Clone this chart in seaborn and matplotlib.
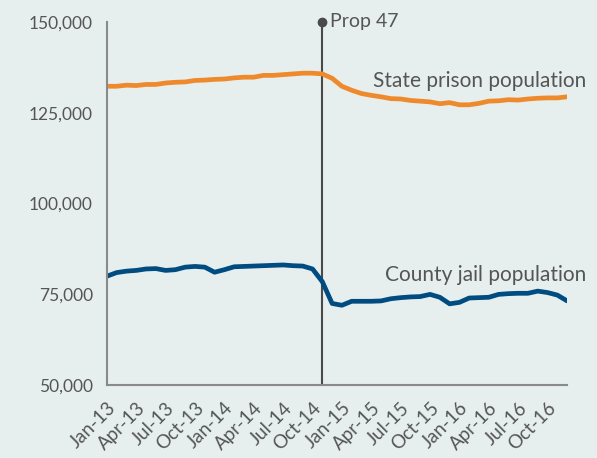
import numpy as np
import pandas as pd
import seaborn as sns
import matplotlib.pyplot as plt

months = pd.date_range('2013-01-01', '2016-12-01', freq='MS').strftime('%b-%y').tolist()

county_jail = [80.0, 81.0, 81.4, 81.6, 82.0, 82.1, 81.6, 81.8, 82.5, 82.7, 82.5, 81.1,
               81.8, 82.6, 82.7, 82.8, 82.9, 83.0, 83.1, 82.9, 82.8, 82.0, 78.5, 72.5,
               72.0, 73.1, 73.1, 73.1, 73.2, 73.8, 74.1, 74.3, 74.4, 75.0, 74.2, 72.4,
               72.8, 74.0, 74.1, 74.2, 75.0, 75.2, 75.3, 75.3, 75.9, 75.5, 74.8, 73.2]
state_prison = [132.3, 132.3, 132.6, 132.5, 132.8, 132.8, 133.2, 133.4, 133.5, 133.9, 134.0, 134.2,
                134.3, 134.6, 134.8, 134.8, 135.3, 135.3, 135.5, 135.7, 135.9, 135.9, 135.7, 134.5,
                132.3, 131.2, 130.3, 129.8, 129.4, 128.9, 128.8, 128.4, 128.2, 128.0, 127.5, 127.8,
                127.2, 127.2, 127.6, 128.2, 128.3, 128.6, 128.5, 128.8, 129.0, 129.1, 129.1, 129.4]
prop47_month = 'Nov-14'

bg = '#e6efee'
text_col = '#555555'

df = pd.DataFrame({
    'idx': list(range(len(months))) * 2,
    'pop': [v * 1000 for v in state_prison] + [v * 1000 for v in county_jail],
    'series': ['State prison population'] * len(months) + ['County jail population'] * len(months),
})

sns.set_style('white')
plt.rcParams['font.family'] = ['Lato', 'DejaVu Sans']

fig = plt.figure(figsize=(5.97, 4.58), dpi=100, facecolor=bg)
ax = fig.add_axes([0.179, 0.159, 0.771, 0.793])
ax.set_facecolor(bg)

sns.lineplot(data=df, x='idx', y='pop', hue='series',
             palette={'State prison population': '#ee8a2c',
                      'County jail population': '#004b80'},
             linewidth=3.4, legend=False, ax=ax)

ax.set_xlim(0, len(months) - 1)
ax.set_ylim(50000, 150000)
ax.set_yticks([50000, 75000, 100000, 125000, 150000])
ax.set_yticklabels([f'{v:,}' for v in [50000, 75000, 100000, 125000, 150000]],
                   fontsize=12.5, color=text_col)
ticks = list(range(0, len(months), 3))
ax.set_xticks(ticks)
ax.set_xticklabels([months[i] for i in ticks], rotation=45, ha='right',
                   rotation_mode='anchor', fontsize=13.5, color=text_col)
ax.set_xlabel('')
ax.set_ylabel('')

for s in ['top', 'right']:
    ax.spines[s].set_visible(False)
for s in ['left', 'bottom']:
    ax.spines[s].set_color('#8a8a8a')
    ax.spines[s].set_linewidth(1.5)
ax.tick_params(axis='both', length=6, width=1.5, color='#8a8a8a', pad=4)

px = months.index(prop47_month)
ax.plot([px, px], [50000, 150000], color='#4a4a4a', lw=1.5, clip_on=False, zorder=1)
ax.plot([px], [150000], 'o', color='#4a4a4a', ms=6, clip_on=False)
ax.text(px + 0.8, 150000, 'Prop 47', fontsize=14, color=text_col, va='center', ha='left')

ax.text(48.9, 133700, 'State prison population', fontsize=15, color=text_col, ha='right', va='center')
ax.text(48.9, 80300, 'County jail population', fontsize=15, color=text_col, ha='right', va='center')

fig.savefig('out.png', dpi=100, facecolor=bg)
